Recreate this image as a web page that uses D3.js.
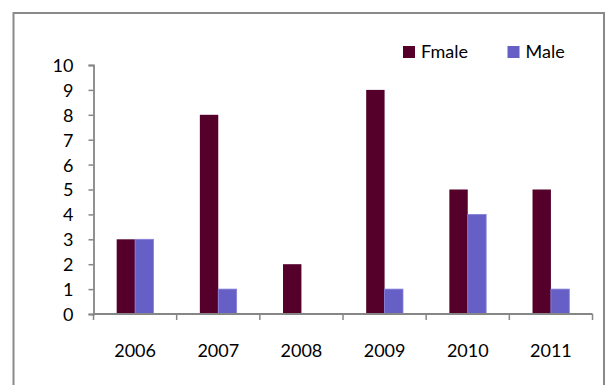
<!DOCTYPE html>
<html><head><meta charset="utf-8">
<script src="https://cdn.jsdelivr.net/npm/d3@7"></script>
<style>html,body{margin:0;padding:0;background:#fff;}svg{display:block;}</style>
</head><body>
<script>
const categories = ["2006","2007","2008","2009","2010","2011"];
const seriesNames = ["Fmale","Male"];
const fmale = [3,8,2,9,5,5];
const male = [3,1,0,1,4,1];
const yTicks = [0,1,2,3,4,5,6,7,8,9,10];
const colors = ["#54002A","#6660C6"];

const W=609,H=385;
const svg=d3.select("body").append("svg").attr("width",W).attr("height",H);
const font="Lato, 'Open Sans', sans-serif";

// outer border
svg.append("rect").attr("x",13.5).attr("y",13).attr("width",590.5).attr("height",400)
  .attr("fill","#fff").attr("stroke","#8a8a8a").attr("stroke-width",2);

const x=d3.scaleBand().domain(categories).range([93.5,592.5]).paddingInner(0).paddingOuter(0);
const y=d3.scaleLinear().domain([0,10]).range([314,65]);
const barW=18.4;
const xs=d3.scaleBand().domain(seriesNames).range([0,barW*2]);

const data=categories.map((c,i)=>({cat:c,vals:[fmale[i],male[i]]}));

const g=svg.append("g");
data.forEach(d=>{
  d.vals.forEach((v,j)=>{
    if(v<=0) return;
    const x0=x(d.cat)+x.bandwidth()/2-barW+xs(seriesNames[j]);
    g.append("rect").attr("x",x0).attr("y",y(v)).attr("width",xs.bandwidth()).attr("height",y(0)-y(v))
      .attr("fill",colors[j]).attr("stroke",j===1?"#8680dc":"none").attr("stroke-width",j===1?0.8:0);
  });
});

// y axis
const yAxis=d3.axisLeft(y).tickValues(yTicks).tickSize(5).tickPadding(15).tickFormat(d3.format("d"));
const ya=svg.append("g").attr("transform","translate(93.5,0)").call(yAxis);
ya.select(".domain").attr("stroke","#868686").attr("stroke-width",1.8);
ya.selectAll(".tick line").attr("stroke","#868686").attr("stroke-width",1.5);
ya.selectAll(".tick text").attr("font-family",font).attr("font-size",18).attr("fill","#000").attr("dy","0.36em");

// x axis
const xAxis=d3.axisBottom(x).tickSize(0).tickPadding(30);
const xa=svg.append("g").attr("transform","translate(0,314)").call(xAxis);
xa.select(".domain").attr("stroke","#868686").attr("stroke-width",1.8).attr("d","M93.5,0H592.5");
xa.selectAll(".tick text").attr("font-family",font).attr("font-size",18).attr("fill","#000").attr("dy","0.71em").attr("y",30);
const bounds=categories.map(c=>x(c)).concat([x.range()[1]]);
xa.selectAll(".bound").data(bounds).enter().append("line")
  .attr("x1",d=>d).attr("x2",d=>d).attr("y1",0).attr("y2",6)
  .attr("stroke","#868686").attr("stroke-width",1.5);

// legend
const legX=[403,507.5];
seriesNames.forEach((s,i)=>{
  svg.append("rect").attr("x",legX[i]).attr("y",46).attr("width",12).attr("height",12).attr("fill",colors[i]);
  svg.append("text").attr("x",legX[i]+18).attr("y",58).attr("font-family",font).attr("font-size",18).attr("fill","#000").text(s);
});
</script>
</body></html>
